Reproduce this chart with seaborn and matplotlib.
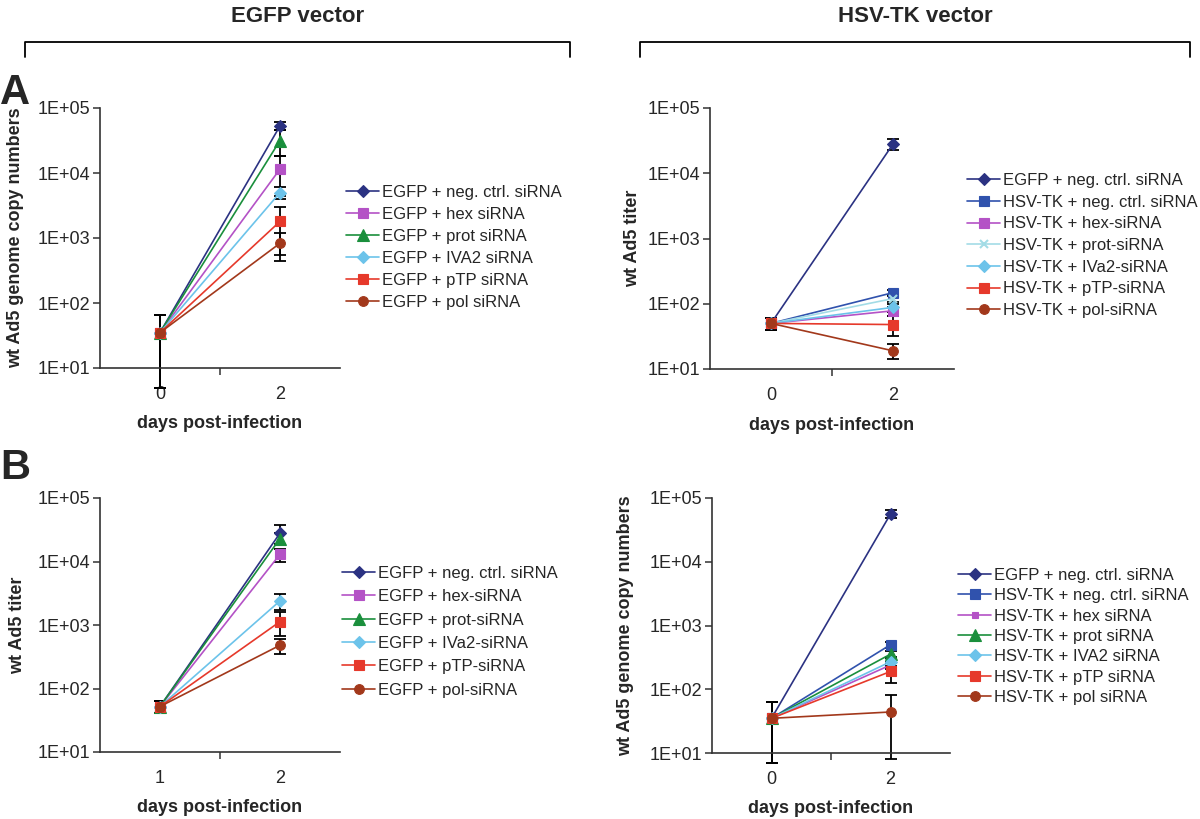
import matplotlib
matplotlib.use("Agg")
import matplotlib.pyplot as plt
from matplotlib.lines import Line2D
from matplotlib.ticker import FixedLocator, NullFormatter
import seaborn as sns

sns.set_style("ticks")
plt.rcParams['font.family'] = ['Liberation Sans', 'DejaVu Sans']

# ---- data ----
days_tl = ["0", "2"]
labels_tl = ["EGFP + neg. ctrl. siRNA", "EGFP + hex siRNA", "EGFP + prot siRNA",
             "EGFP + IVA2 siRNA", "EGFP + pTP siRNA", "EGFP + pol siRNA"]
start_tl = [35, 35, 35, 35, 35, 35]
end_tl = [53000, 11500, 31600, 5000, 1800, 830]
start_err_tl = [30, 30, 30, 30, 30, 30]
end_err_tl = [7000, 7000, 13600, 1000, 1250, 380]

days_tr = ["0", "2"]
labels_tr = ["EGFP + neg. ctrl. siRNA", "HSV-TK + neg. ctrl. siRNA", "HSV-TK + hex-siRNA",
             "HSV-TK + prot-siRNA", "HSV-TK + IVa2-siRNA", "HSV-TK + pTP-siRNA",
             "HSV-TK + pol-siRNA"]
start_tr = [50, 50, 50, 50, 50, 50, 50]
end_tr = [28000, 148, 78, 120, 88, 48, 19]
start_err_tr = [11, 11, 11, 11, 11, 11, 11]
end_err_tr = [5500, 15, 12, 15, 12, 16, 5]

days_bl = ["1", "2"]
labels_bl = ["EGFP + neg. ctrl. siRNA", "EGFP + hex-siRNA", "EGFP + prot-siRNA",
             "EGFP + IVa2-siRNA", "EGFP + pTP-siRNA", "EGFP + pol-siRNA"]
start_bl = [52, 52, 52, 52, 52, 52]
end_bl = [28000, 13000, 23000, 2400, 1130, 480]
start_err_bl = [11, 11, 11, 11, 11, 11]
end_err_bl = [9000, 3000, 5000, 650, 450, 130]

days_br = ["0", "2"]
labels_br = ["EGFP + neg. ctrl. siRNA", "HSV-TK + neg. ctrl. siRNA", "HSV-TK + hex siRNA",
             "HSV-TK + prot siRNA", "HSV-TK + IVA2 siRNA", "HSV-TK + pTP siRNA",
             "HSV-TK + pol siRNA"]
start_br = [35, 35, 35, 35, 35, 35, 35]
end_br = [56000, 500, 240, 355, 270, 190, 44]
start_err_br = [28, 28, 28, 28, 28, 28, 28]
end_err_br = [8000, 60, 30, 40, 40, 65, 36]

# ---- styles ----
NAVY, BLUE, PURPLE, GREEN = "#2b3282", "#3052ad", "#b452c6", "#1a8f3c"
CYAN, PALE, RED, BROWN = "#6cc3ea", "#a3dce6", "#e6392b", "#a2381b"

style_egfp = [(NAVY, "D", 6), (PURPLE, "s", 7), (GREEN, "^", 8),
              (CYAN, "D", 6), (RED, "s", 7), (BROWN, "o", 7)]
style_tr = [(NAVY, "D", 6), (BLUE, "s", 7), (PURPLE, "s", 7), (PALE, "x", 6),
            (CYAN, "D", 6), (RED, "s", 7), (BROWN, "o", 7)]
style_br = [(NAVY, "D", 6), (BLUE, "s", 7), (PURPLE, "s", 5), (GREEN, "^", 8),
            (CYAN, "D", 6), (RED, "s", 7), (BROWN, "o", 7)]

fig = plt.figure(figsize=(12, 8.19), dpi=100)
W, H = 1200, 819


def px_axes(left, top, right, bottom):
    return fig.add_axes([left / W, 1 - bottom / H, (right - left) / W, (bottom - top) / H])


def draw_panel(ax, days, labels, start, end, s_err, e_err, styles, ylabel, ylab_x,
               xlab_y, leg_xy, leg_space):
    for i, lab in enumerate(labels):
        col, mk, ms = styles[i]
        sns.lineplot(x=days, y=[start[i], end[i]], ax=ax, color=col, marker=mk,
                     markersize=ms, markeredgecolor=col, markeredgewidth=1.5 if mk == "x" else 0.8,
                     linewidth=1.2, label=lab, zorder=3)
    handles, labs = ax.get_legend_handles_labels()
    for i in range(len(labels)):
        ax.errorbar(days, [start[i], end[i]], yerr=[s_err[i], e_err[i]], fmt="none",
                    ecolor="black", elinewidth=1.3, capsize=4, capthick=1.3,
                    clip_on=False, zorder=2)
    ax.set_yscale("log")
    ax.set_ylim(10, 1e5)
    ax.set_xlim(-0.5, 1.5)
    ax.set_yticks([1e1, 1e2, 1e3, 1e4, 1e5])
    ax.set_yticklabels(["1E+01", "1E+02", "1E+03", "1E+04", "1E+05"])
    ax.yaxis.set_minor_locator(FixedLocator([]))
    ax.xaxis.set_minor_locator(FixedLocator([0.5]))
    ax.xaxis.set_minor_formatter(NullFormatter())
    ax.tick_params(axis="x", which="major", length=0, pad=13, labelsize=13)
    ax.tick_params(axis="x", which="minor", length=5, width=1.1, color="#333333")
    ax.tick_params(axis="y", length=5, width=1.1, pad=2, labelsize=13, color="#333333")
    sns.despine(ax=ax)
    for sp in ("left", "bottom"):
        ax.spines[sp].set_linewidth(1.2)
        ax.spines[sp].set_color("#333333")
    ax.set_xlabel("days post-infection", fontsize=13, fontweight="bold")
    ax.set_ylabel(ylabel, fontsize=13, fontweight="bold")
    ax.xaxis.set_label_coords(0.5, xlab_y)
    ax.yaxis.set_label_coords(ylab_x, 0.5)
    ax.legend(handles, labs, loc="upper left", bbox_to_anchor=(leg_xy[0] / W, 1 - leg_xy[1] / H),
              bbox_transform=fig.transFigure, frameon=False, fontsize=12, borderpad=0,
              borderaxespad=0, handlelength=2.0, handletextpad=0.15, labelspacing=leg_space)


ax_tl = px_axes(100, 108, 340, 368)
draw_panel(ax_tl, days_tl, labels_tl, start_tl, end_tl, start_err_tl, end_err_tl, style_egfp,
           "wt Ad5 genome copy numbers", -0.317, -0.18, (346, 185), 0.42)

ax_tr = px_axes(710, 108, 954, 369)
draw_panel(ax_tr, days_tr, labels_tr, start_tr, end_tr, start_err_tr, end_err_tr, style_tr,
           "wt Ad5 titer", -0.283, -0.184, (967, 173), 0.40)

ax_bl = px_axes(100, 498, 340, 752)
draw_panel(ax_bl, days_bl, labels_bl, start_bl, end_bl, start_err_bl, end_err_bl, style_egfp,
           "wt Ad5 titer", -0.308, -0.185, (342, 566), 0.5)

ax_br = px_axes(712, 498, 950, 753)
draw_panel(ax_br, days_br, labels_br, start_br, end_br, start_err_br, end_err_br, style_br,
           "wt Ad5 genome copy numbers", -0.328, -0.184, (958, 568), 0.32)

# headers with brackets
for x0, x1, title in [(25, 570, "EGFP vector"), (640, 1190, "HSV-TK vector")]:
    fig.text((x0 + x1) / 2 / W, 1 - 17 / H, title, ha="center", va="center",
             fontsize=16, fontweight="bold")
    fig.add_artist(Line2D([x0 / W, x0 / W, x1 / W, x1 / W],
                          [1 - 57 / H, 1 - 42 / H, 1 - 42 / H, 1 - 57 / H],
                          color="black", linewidth=1.3, transform=fig.transFigure))

fig.text(0 / W, 1 - 93 / H, "A", ha="left", va="center", fontsize=30, fontweight="bold")
fig.text(0 / W, 1 - 468 / H, "B", ha="left", va="center", fontsize=30, fontweight="bold")

fig.savefig("out.png", dpi=100)
